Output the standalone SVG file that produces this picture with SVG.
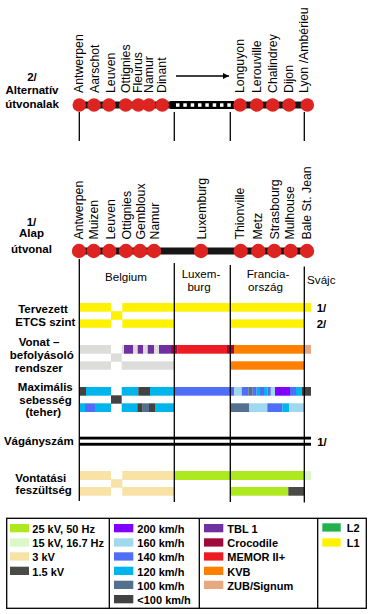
<svg xmlns="http://www.w3.org/2000/svg" width="370" height="614" viewBox="0 0 370 614">
<defs>
<style>
text{font-family:"Liberation Sans",Arial,sans-serif;fill:#000}
.st{font-size:12.3px}
.lb{font-size:11.5px;font-weight:bold;text-anchor:middle}
.hd{font-size:11.6px;text-anchor:middle}
.lg{font-size:11px;font-weight:bold}
.stn{fill:#DD2420}
.ln{stroke:#000;stroke-width:1.3;fill:none}
.yl{fill:#FFF200}.gr{fill:#DCDCDA}.tbl{fill:#7030A0}.cro{fill:#9E0B3A}.mem{fill:#ED1C24}.kvb{fill:#FF7F00}.zub{fill:#E6A97F}
.s200{fill:#8000FF}.s160{fill:#A0D8F0}.s140{fill:#4F6EF5}.s120{fill:#00B5EC}.s100{fill:#53708F}.s0{fill:#424242}
.v25{fill:#AEE81E}.v15{fill:#DAF8C8}.v3{fill:#F8E2A6}.v15d{fill:#4A4A46}.l2{fill:#22B14C}
</style>
<marker id="ah" viewBox="0 0 6 6" refX="6" refY="3" markerWidth="6" markerHeight="6" markerUnits="userSpaceOnUse" orient="auto"><path d="M0,0 L6,3 L0,6 z" fill="#000"/></marker>
</defs>
<rect width="370" height="614" fill="#FFFFFF"/>

<!-- left labels -->
<g id="label-alt">
<text class="lb" x="32" y="81">2/</text>
<text class="lb" x="32" y="94">Alternatív</text>
<text class="lb" x="32" y="108">útvonalak</text>
</g>
<g id="label-base">
<text class="lb" x="31.5" y="225.5">1/</text>
<text class="lb" x="31.5" y="237">Alap</text>
<text class="lb" x="31.5" y="253">útvonal</text>
</g>

<!-- connectors -->
<g id="connectors">
<line x1="176" y1="76" x2="229" y2="76" stroke="#000" stroke-width="1.5" marker-end="url(#ah)"/>
<rect x="79" y="101.5" width="228" height="7" fill="#161616"/>
<rect x="170" y="101" width="64" height="8" fill="#000"/>
<g fill="#FFFFFF">
<rect x="176" y="103.3" width="3.5" height="3.5"/><rect x="183.3" y="103.3" width="3.5" height="3.5"/>
<rect x="190.7" y="103.3" width="3.5" height="3.5"/><rect x="198" y="103.3" width="3.5" height="3.5"/>
<rect x="205.3" y="103.3" width="3.5" height="3.5"/><rect x="212.7" y="103.3" width="3.5" height="3.5"/>
<rect x="220" y="103.3" width="3.5" height="3.5"/><rect x="227.3" y="103.3" width="3.5" height="3.5"/>
</g>
<rect x="79" y="247.5" width="228" height="7" fill="#161616"/>
<line class="ln" x1="79.3" y1="112" x2="79.3" y2="141"/>
<line class="ln" x1="174.3" y1="112" x2="174.3" y2="141"/>
<line class="ln" x1="230.3" y1="112" x2="230.3" y2="141"/>
<line class="ln" x1="304.3" y1="112" x2="304.3" y2="141"/>
</g>

<!-- alternative route stations -->
<g id="alt-stations">
<circle class="stn" cx="79.3" cy="105" r="6.8"/><circle class="stn" cx="94" cy="105" r="6.8"/>
<circle class="stn" cx="109" cy="105" r="6.8"/><circle class="stn" cx="125.7" cy="105" r="6.8"/>
<circle class="stn" cx="138.3" cy="105" r="6.8"/><circle class="stn" cx="149" cy="105" r="6.8"/>
<circle class="stn" cx="162.3" cy="105" r="6.8"/>
<circle class="stn" cx="240" cy="105" r="6.8"/><circle class="stn" cx="256.7" cy="105" r="6.8"/>
<circle class="stn" cx="272.7" cy="105" r="6.8"/><circle class="stn" cx="289" cy="105" r="6.8"/>
<circle class="stn" cx="307.3" cy="105" r="6.8"/>
<text class="st" transform="translate(83,93) rotate(-90)">Antwerpen</text>
<text class="st" transform="translate(99,93) rotate(-90)">Aarschot</text>
<text class="st" transform="translate(115,93) rotate(-90)">Leuven</text>
<text class="st" transform="translate(129.6,93) rotate(-90)">Ottignies</text>
<text class="st" transform="translate(142,93) rotate(-90)">Fleurus</text>
<text class="st" transform="translate(153,93) rotate(-90)">Namur</text>
<text class="st" transform="translate(165.5,93) rotate(-90)">Dinant</text>
<text class="st" transform="translate(244,93) rotate(-90)">Longuyon</text>
<text class="st" transform="translate(260.5,93) rotate(-90)">Lerouville</text>
<text class="st" transform="translate(277,93) rotate(-90)">Chalindrey</text>
<text class="st" transform="translate(293,93) rotate(-90)">Dijon</text>
<text class="st" transform="translate(308,93) rotate(-90)">Lyon /Ambérieu</text>
</g>

<!-- base route stations -->
<g id="base-stations">
<circle class="stn" cx="79" cy="251" r="7.2"/><circle class="stn" cx="93.7" cy="251" r="7.2"/>
<circle class="stn" cx="109.3" cy="251" r="7.2"/><circle class="stn" cx="126" cy="251" r="7.2"/>
<circle class="stn" cx="140" cy="251" r="7.2"/><circle class="stn" cx="154" cy="251" r="7.2"/>
<circle class="stn" cx="201" cy="251" r="7.2"/>
<circle class="stn" cx="240.7" cy="251" r="7.2"/><circle class="stn" cx="258.3" cy="251" r="7.2"/>
<circle class="stn" cx="274.3" cy="251" r="7.2"/><circle class="stn" cx="290.7" cy="251" r="7.2"/>
<circle class="stn" cx="307" cy="251" r="7.2"/>
<text class="st" transform="translate(83,239.5) rotate(-90)">Antwerpen</text>
<text class="st" transform="translate(98,239.5) rotate(-90)">Muizen</text>
<text class="st" transform="translate(115,239.5) rotate(-90)">Leuven</text>
<text class="st" transform="translate(130.5,239.5) rotate(-90)">Ottignies</text>
<text class="st" transform="translate(145,239.5) rotate(-90)">Gembloux</text>
<text class="st" transform="translate(159,239.5) rotate(-90)">Namur</text>
<text class="st" transform="translate(205.5,239.5) rotate(-90)">Luxemburg</text>
<text class="st" transform="translate(244,239.5) rotate(-90)">Thionville</text>
<text class="st" transform="translate(262,239.5) rotate(-90)">Metz</text>
<text class="st" transform="translate(279,239.5) rotate(-90)">Strasbourg</text>
<text class="st" transform="translate(294,239.5) rotate(-90)">Mulhouse</text>
<text class="st" transform="translate(310.5,239.5) rotate(-90)">Bale St. Jean</text>
</g>

<!-- column headers -->
<g id="headers">
<text class="hd" x="126" y="280.5">Belgium</text>
<text class="hd" x="201" y="278">Luxem-</text>
<text class="hd" x="199" y="291">burg</text>
<text class="hd" x="268" y="278">Francia-</text>
<text class="hd" x="265.5" y="291">ország</text>
<text class="hd" x="321.3" y="283.5">Svájc</text>
</g>

<!-- row labels -->
<g id="row-labels">
<text class="lb" x="43" y="312.5">Tervezett</text>
<text class="lb" x="45.3" y="325.5">ETCS szint</text>
<text class="lb" x="39" y="346">Vonat –</text>
<text class="lb" x="41.8" y="359">befolyásoló</text>
<text class="lb" x="38.8" y="372">rendszer</text>
<text class="lb" x="45.3" y="391">Maximális</text>
<text class="lb" x="45.5" y="403.5">sebesség</text>
<text class="lb" x="43.3" y="416">(teher)</text>
<text class="lb" x="38.8" y="445">Vágányszám</text>
<text class="lb" x="40.8" y="481.5">Vontatási</text>
<text class="lb" x="43.7" y="494">feszültség</text>
<text class="lb" x="321.5" y="311.7">1/</text>
<text class="lb" x="321.5" y="327.7">2/</text>
<text class="lb" x="322" y="446">1/</text>
</g>

<!-- ETCS -->
<g id="etcs">
<rect class="yl" x="79.3" y="303" width="31.7" height="8.7"/>
<rect class="yl" x="122.3" y="303" width="188.7" height="8.7"/>
<rect class="yl" x="111" y="311.2" width="11.3" height="8.6"/>
<rect class="yl" x="79.3" y="319.4" width="31.7" height="8.4"/>
<rect class="yl" x="122.3" y="319.4" width="51.7" height="8.4"/>
<rect class="yl" x="230.7" y="319.4" width="73.6" height="8.4"/>
</g>

<!-- train control -->
<g id="train-control">
<rect class="gr" x="79.3" y="345" width="31.7" height="8.7"/>
<rect class="gr" x="111" y="353.3" width="10.7" height="8.4"/>
<rect class="gr" x="121.7" y="345" width="2.3" height="8.7"/>
<rect class="tbl" x="124" y="345" width="9.3" height="8.7"/>
<rect class="gr" x="133.3" y="345" width="4.4" height="8.7"/>
<rect class="tbl" x="137.7" y="345" width="5.6" height="8.7"/>
<rect class="gr" x="143.3" y="345" width="4.4" height="8.7"/>
<rect class="tbl" x="147.7" y="345" width="6.3" height="8.7"/>
<rect class="gr" x="154" y="345" width="5" height="8.7"/>
<rect class="tbl" x="159" y="345" width="12" height="8.7"/>
<rect class="cro" x="171" y="345" width="6.7" height="8.7"/>
<rect class="mem" x="177.7" y="345" width="49.3" height="8.7"/>
<rect class="cro" x="227" y="345" width="7" height="8.7"/>
<rect class="kvb" x="234" y="345" width="70.3" height="8.7"/>
<rect class="zub" x="304.3" y="345" width="6.7" height="8.7"/>
<rect class="gr" x="79.3" y="361.3" width="31.7" height="8.4"/>
<rect class="gr" x="121.7" y="361.3" width="52.3" height="8.4"/>
<rect class="kvb" x="230.7" y="361.3" width="73.6" height="8.4"/>
</g>

<!-- max speed -->
<g id="speed">
<rect class="s0" x="79.3" y="387" width="6.7" height="8.7"/>
<rect class="s120" x="86" y="387" width="25" height="8.7"/>
<rect class="s0" x="111" y="395.3" width="10.7" height="8.4"/>
<rect class="s120" x="121.7" y="387" width="16.6" height="8.7"/>
<rect class="s0" x="138.3" y="387" width="11.7" height="8.7"/>
<rect class="s120" x="150" y="387" width="24.3" height="8.7"/>
<rect class="s140" x="174.3" y="387" width="60" height="8.7"/>
<rect class="s160" x="234.3" y="387" width="7.4" height="8.7"/>
<rect class="s140" x="241.7" y="387" width="6.6" height="8.7"/>
<rect class="s100" x="248.3" y="387" width="4.4" height="8.7"/>
<rect class="s140" x="252.7" y="387" width="4" height="8.7"/>
<rect class="s120" x="256.7" y="387" width="3.3" height="8.7"/>
<rect class="s140" x="260" y="387" width="4" height="8.7"/>
<rect class="s120" x="264" y="387" width="3.5" height="8.7"/>
<rect class="s140" x="267.5" y="387" width="3.3" height="8.7"/>
<rect class="s160" x="270.8" y="387" width="4.2" height="8.7"/>
<rect class="s200" x="275" y="387" width="15" height="8.7"/>
<rect class="s140" x="290" y="387" width="6" height="8.7"/>
<rect class="s120" x="296" y="387" width="5.7" height="8.7"/>
<rect class="s0" x="301.7" y="387" width="9.3" height="8.7"/>
<rect class="s120" x="79.3" y="403.3" width="5.7" height="8.7"/>
<rect class="s140" x="85" y="403.3" width="10" height="8.7"/>
<rect class="s120" x="95" y="403.3" width="16" height="8.7"/>
<rect class="s120" x="121.7" y="403.3" width="15.6" height="8.7"/>
<rect class="s0" x="137.3" y="403.3" width="5.4" height="8.7"/>
<rect class="s100" x="142.7" y="403.3" width="6.3" height="8.7"/>
<rect class="s0" x="149" y="403.3" width="6" height="8.7"/>
<rect class="s120" x="155" y="403.3" width="19" height="8.7"/>
<rect class="s100" x="230.7" y="403.3" width="18.3" height="8.7"/>
<rect class="s160" x="249" y="403.3" width="18.3" height="8.7"/>
<rect class="s140" x="267.3" y="403.3" width="15" height="8.7"/>
<rect class="s120" x="282.3" y="403.3" width="6.7" height="8.7"/>
<rect class="s160" x="289" y="403.3" width="15.3" height="8.7"/>
</g>

<!-- tracks -->
<g id="tracks">
<rect x="79.3" y="436.7" width="231.7" height="2.8" fill="#000"/>
<rect x="79.3" y="442.8" width="231.7" height="2.9" fill="#000"/>
</g>

<!-- voltage -->
<g id="voltage">
<rect class="v3" x="79.3" y="471" width="31.7" height="9"/>
<rect class="v3" x="111" y="479.3" width="11.3" height="8.4"/>
<rect class="v3" x="122.3" y="471" width="51.7" height="9"/>
<rect class="v25" x="174" y="471" width="130.3" height="9"/>
<rect class="v15" x="304.3" y="471" width="6.7" height="9"/>
<rect class="v3" x="79.3" y="487" width="31.7" height="8.7"/>
<rect class="v3" x="122.3" y="487" width="51.7" height="8.7"/>
<rect class="v25" x="230.7" y="487" width="57.6" height="8.7"/>
<rect class="v15d" x="288.3" y="487" width="16" height="8.7"/>
</g>

<!-- border lines -->
<g id="border-lines">
<line class="ln" x1="79.3" y1="259" x2="79.3" y2="501"/>
<line class="ln" x1="174.3" y1="263" x2="174.3" y2="502"/>
<line class="ln" x1="230.3" y1="265" x2="230.3" y2="502"/>
<line class="ln" x1="304.3" y1="266.5" x2="304.3" y2="502.5"/>
</g>

<!-- legend -->
<g id="legend">
<rect class="ln" x="6.7" y="518.3" width="359.6" height="90"/>
<line class="ln" x1="109.3" y1="518.3" x2="109.3" y2="608.3"/>
<line class="ln" x1="199.3" y1="518.3" x2="199.3" y2="608.3"/>
<line class="ln" x1="317.7" y1="518.3" x2="317.7" y2="608.3"/>
<g id="legend-voltage">
<rect class="v25" x="10" y="524" width="19" height="8.3"/><text class="lg" x="32.3" y="533">25 kV, 50 Hz</text>
<rect class="v15" x="10" y="538.3" width="19" height="8.3"/><text class="lg" x="32.3" y="547.3">15 kV, 16.7 Hz</text>
<rect class="v3" x="10" y="552.3" width="19" height="8.3"/><text class="lg" x="32.3" y="561.3">3 kV</text>
<rect class="v15d" x="10" y="566.7" width="19" height="8.3"/><text class="lg" x="32.3" y="575.7">1.5 kV</text>
</g>
<g id="legend-speed">
<rect class="s200" x="114" y="524" width="19.3" height="8.3"/><text class="lg" x="137.3" y="533">200 km/h</text>
<rect class="s160" x="114" y="538.3" width="19.3" height="8.3"/><text class="lg" x="137.3" y="547.3">160 km/h</text>
<rect class="s140" x="114" y="552.3" width="19.3" height="8.3"/><text class="lg" x="137.3" y="561.3">140 km/h</text>
<rect class="s120" x="114" y="566.7" width="19.3" height="8.3"/><text class="lg" x="137.3" y="575.7">120 km/h</text>
<rect class="s100" x="114" y="580.7" width="19.3" height="8.3"/><text class="lg" x="137.3" y="589.7">100 km/h</text>
<rect class="s0" x="114" y="595" width="19.3" height="8.3"/><text class="lg" x="137.3" y="604">&lt;100 km/h</text>
</g>
<g id="legend-control">
<rect class="tbl" x="204" y="524" width="19.3" height="8.3"/><text class="lg" x="227.3" y="533">TBL 1</text>
<rect class="cro" x="204" y="538.3" width="19.3" height="8.3"/><text class="lg" x="227.3" y="547.3">Crocodile</text>
<rect class="mem" x="204" y="552.3" width="19.3" height="8.3"/><text class="lg" x="227.3" y="561.3">MEMOR II+</text>
<rect class="kvb" x="204" y="566.7" width="19.3" height="8.3"/><text class="lg" x="227.3" y="575.7">KVB</text>
<rect class="zub" x="204" y="580.7" width="19.3" height="8.3"/><text class="lg" x="227.3" y="589.7">ZUB/Signum</text>
</g>
<g id="legend-etcs">
<rect class="l2" x="322.3" y="523.3" width="18.4" height="8.3"/><text class="lg" x="346.7" y="532.3">L2</text>
<rect class="yl" x="322.3" y="538.3" width="18.4" height="8.3"/><text class="lg" x="346.7" y="547.3">L1</text>
</g>
</g>
</svg>
